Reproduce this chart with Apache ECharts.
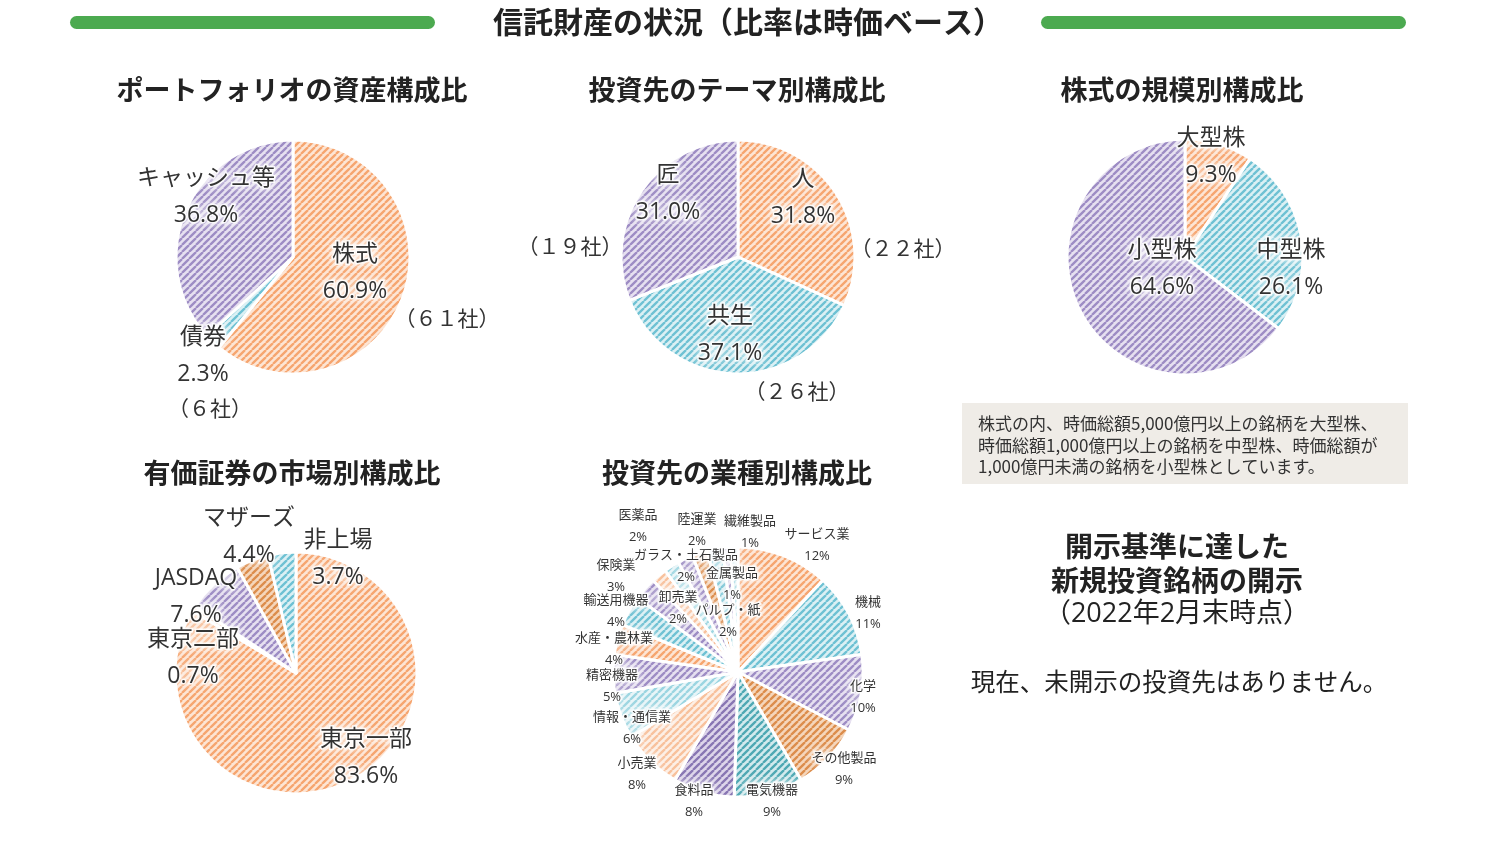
<!DOCTYPE html>
<html>
<head>
<meta charset="utf-8">
<script src="https://cdn.jsdelivr.net/npm/echarts@6/dist/echarts.min.js"></script>
<style>
  html, body { margin: 0; padding: 0; background: #fff; }
  #chart { width: 1500px; height: 843px; }
</style>
</head>
<body>
<div id="chart"></div>
<script>
// ---- data ----
const portfolioNames = ['株式', '債券', 'キャッシュ等']
const portfolioValues = [60.9, 2.3, 36.8]

const themeNames = ['人', '共生', '匠']
const themeValues = [31.8, 37.1, 31.0]

const sizeNames = ['大型株', '中型株', '小型株']
const sizeValues = [9.3, 26.1, 64.6]

const marketNames = ['東京一部', '東京二部', 'JASDAQ', 'マザーズ', '非上場']
const marketValues = [83.6, 0.7, 7.6, 4.4, 3.7]

const industryNames = ['サービス業', '機械', '化学', 'その他製品', '電気機器', '食料品', '小売業',
  '情報・通信業', '精密機器', '水産・農林業', '輸送用機器', '保険業', '医薬品', '卸売業',
  'ガラス・土石製品', '陸運業', 'パルプ・紙', '金属製品', '繊維製品']
const industryValues = [12, 11, 10, 9, 9, 8, 8, 6, 5, 4, 4, 3, 2, 2, 2, 2, 2, 1, 1]

const companyCounts = ['（６１社）', '（６社）', '（２２社）', '（２６社）', '（１９社）']

// ---- label positions (px) ----
const portfolioPos = [[355, 273], [203, 356], [206, 197]]
const themePos = [[803, 198], [730, 335], [668, 194]]
const sizePos = [[1211, 157], [1291, 269], [1162, 269]]
const marketPos = [[366, 758], [193, 658], [196, 597], [249, 537], [338, 559]]
const industryPos = [[817, 545], [868, 613], [863, 697], [844, 769], [772, 801], [694, 801], [637, 774],
  [632, 728], [612, 686], [614, 649], [616, 611], [616, 576], [638, 526], [678, 608],
  [686, 566], [697, 530], [728, 621], [732, 584], [750, 532]]
const countPos = [[447, 318], [210, 408], [903, 248], [797, 391], [570, 246]]

function stripes(bg, fg) {
  const c = document.createElement('canvas')
  c.width = c.height = 7
  const g = c.getContext('2d')
  g.fillStyle = bg
  g.fillRect(0, 0, 7, 7)
  g.strokeStyle = fg
  g.lineWidth = 2.3
  g.beginPath()
  for (let k = -7; k <= 7; k += 7) {
    g.moveTo(k, 7)
    g.lineTo(k + 7, 0)
  }
  g.stroke()
  return { image: c, repeat: 'repeat' }
}

const C = {
  orange: stripes('#fde5d4', '#f6a56f'),
  teal: stripes('#dbf0f4', '#6ec1d3'),
  purple: stripes('#e6e0f0', '#9d8cc4'),
  dkorange: stripes('#f5d6bb', '#dc8d4c'),
  dkteal: stripes('#d2eaed', '#4ea8b3'),
  dkpurple: stripes('#ddd5ea', '#8876b3'),
  ltorange: stripes('#fdefe5', '#f8c19c'),
  ltteal: stripes('#e8f5f8', '#9bd5e1')
}

const portfolioColors = [C.orange, C.teal, C.purple]
const themeColors = [C.orange, C.teal, C.purple]
const sizeColors = [C.orange, C.teal, C.purple]
const marketColors = [C.orange, C.ltorange, C.purple, C.dkorange, C.teal]
const industryColors = [C.orange, C.teal, C.purple, C.dkorange, C.dkteal, C.dkpurple, C.ltorange,
  C.ltteal, C.purple, C.orange, C.teal, C.purple, C.ltorange, C.ltteal, C.purple, C.dkorange,
  C.teal, C.purple, C.ltteal]

const FONT = '"Noto Sans CJK JP", "Noto Sans", sans-serif'
const LFONT = '"Open Sans", "Noto Sans CJK JP", sans-serif'

function pieSeries(names, values, colors, center, radius, pos, fontSize, lineHeight, digits) {
  return {
    type: 'pie',
    center: center,
    radius: radius,
    startAngle: 90,
    clockwise: true,
    silent: true,
    animation: false,
    avoidLabelOverlap: false,
    itemStyle: { borderColor: '#fff', borderWidth: 3 },
    label: {
      show: true,
      position: 'inside',
      fontFamily: LFONT,
      fontSize: fontSize,
      lineHeight: lineHeight,
      color: '#333',
      textBorderColor: 'rgba(255,255,255,0.85)',
      textBorderWidth: 3,
      textShadowColor: '#fff',
      textShadowBlur: 8,
      formatter: (p) => p.name + '\n' + p.value.toFixed(digits) + '%'
    },
    labelLine: { show: false },
    labelLayout: function (p) {
      const xy = pos[p.dataIndex]
      return { x: xy[0], y: xy[1], align: 'center', verticalAlign: 'middle', hideOverlap: false }
    },
    data: names.map((n, i) => ({ name: n, value: values[i], itemStyle: { color: colors[i] } }))
  }
}

const chart = echarts.init(document.getElementById('chart'))

const headings = [
  ['ポートフォリオの資産構成比', 292, 90],
  ['投資先のテーマ別構成比', 737, 90],
  ['株式の規模別構成比', 1182, 90],
  ['有価証券の市場別構成比', 292, 473],
  ['投資先の業種別構成比', 737, 473]
]

const graphics = [
  { type: 'rect', shape: { x: 70, y: 16, width: 365, height: 13, r: 6.5 }, style: { fill: '#4caa50' } },
  { type: 'rect', shape: { x: 1041, y: 16, width: 365, height: 13, r: 6.5 }, style: { fill: '#4caa50' } },
  {
    type: 'text', x: 748, y: 22,
    style: { text: '信託財産の状況（比率は時価ベース）', font: 'bold 30px ' + FONT, fill: '#222', align: 'center', verticalAlign: 'middle' }
  },
  { type: 'rect', shape: { x: 962, y: 403, width: 446, height: 81 }, style: { fill: '#efece7' } },
  {
    type: 'text', x: 978, y: 413,
    style: {
      text: '株式の内、時価総額5,000億円以上の銘柄を大型株、\n時価総額1,000億円以上の銘柄を中型株、時価総額が\n1,000億円未満の銘柄を小型株としています。',
      font: '17px ' + FONT, lineHeight: 21.5, fill: '#333', align: 'left', verticalAlign: 'top'
    }
  },
  {
    type: 'text', x: 1177, y: 563,
    style: { text: '開示基準に達した\n新規投資銘柄の開示', font: 'bold 28px ' + FONT, lineHeight: 34, fill: '#222', align: 'center', verticalAlign: 'middle' }
  },
  {
    type: 'text', x: 1177, y: 614,
    style: { text: '（2022年2月末時点）', font: '27px ' + LFONT, fill: '#222', align: 'center', verticalAlign: 'middle' }
  },
  {
    type: 'text', x: 1179, y: 682,
    style: { text: '現在、未開示の投資先はありません。', font: '24.5px ' + FONT, fill: '#222', align: 'center', verticalAlign: 'middle' }
  }
]

headings.forEach(([t, x, y]) => {
  graphics.push({
    type: 'text', x: x, y: y,
    style: { text: t, font: 'bold 27px ' + FONT, fill: '#222', align: 'center', verticalAlign: 'middle' }
  })
})

companyCounts.forEach((t, i) => {
  graphics.push({
    type: 'text', x: countPos[i][0], y: countPos[i][1], z: 10,
    style: { text: t, font: '21px ' + FONT, fill: '#333', align: 'center', verticalAlign: 'middle' }
  })
})

chart.setOption({
  animation: false,
  graphic: graphics,
  series: [
    pieSeries(portfolioNames, portfolioValues, portfolioColors, [293, 257], 117, portfolioPos, 23, 37, 1),
    pieSeries(themeNames, themeValues, themeColors, [738, 257], 117, themePos, 23, 37, 1),
    pieSeries(sizeNames, sizeValues, sizeColors, [1185, 257], 118, sizePos, 23, 37, 1),
    pieSeries(marketNames, marketValues, marketColors, [296, 673], 121, marketPos, 23, 37, 1),
    pieSeries(industryNames, industryValues, industryColors, [738, 672], 125, industryPos, 13, 22, 0)
  ]
})
</script>
</body>
</html>
